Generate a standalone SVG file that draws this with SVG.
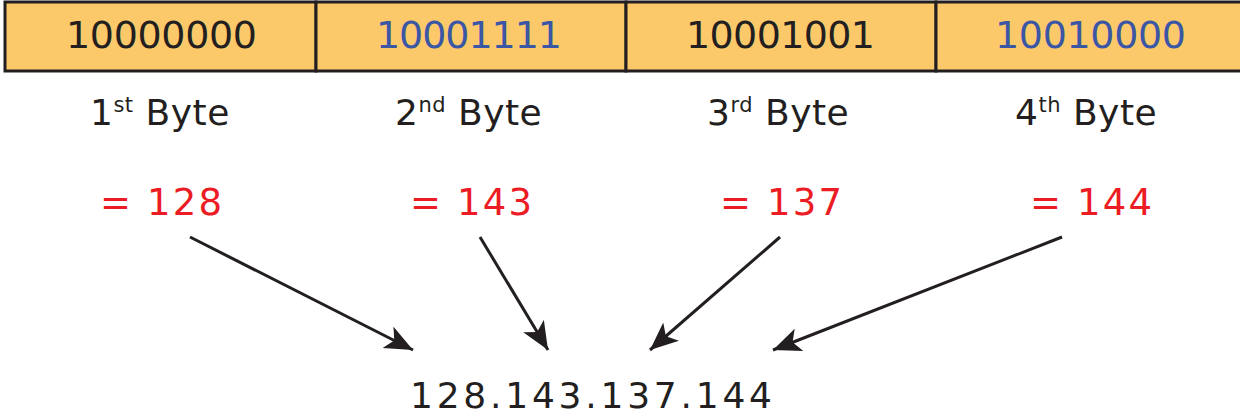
<svg xmlns="http://www.w3.org/2000/svg" width="1240" height="419" viewBox="0 0 1240 419">
<style>
.cell{fill:#fcc96a;stroke:#231f20;stroke-width:3}
.bin{font-family:"DejaVu Sans",sans-serif;font-size:38px}
.dark{fill:#231f20}
.blue{fill:#3a56a5}
.lbl{font-family:"DejaVu Sans",sans-serif;font-size:36px;fill:#231f20;letter-spacing:0.5px}
.sup{font-size:21px}
.val{font-family:"DejaVu Sans",sans-serif;font-size:37px;fill:#ec1c24}
.ip{font-family:"DejaVu Sans",sans-serif;font-size:36px;fill:#231f20}
.arr{stroke:#231f20;stroke-width:3;fill:none;marker-end:url(#ah)}
</style>
<defs>
<marker id="ah" markerUnits="userSpaceOnUse" markerWidth="30" markerHeight="26" refX="28" refY="12" orient="auto">
<path d="M0,0 L28,12 L0,24 L7,12 Z" fill="#231f20"/>
</marker>
</defs>
<g id="byte1">
<rect class="cell" x="5" y="2" width="311" height="69"/>
<text class="bin dark" x="66" y="48" textLength="191" lengthAdjust="spacing">10000000</text>
<text class="lbl" x="90" y="125">1<tspan class="sup" dy="-13">st</tspan><tspan dy="13"> Byte</tspan></text>
<text class="val" x="100" y="215" textLength="122" lengthAdjust="spacing">= 128</text>
</g>
<g id="byte2">
<rect class="cell" x="316" y="2" width="310" height="69"/>
<text class="bin blue" x="376" y="48" textLength="186" lengthAdjust="spacing">10001111</text>
<text class="lbl" x="395" y="125">2<tspan class="sup" dy="-13">nd</tspan><tspan dy="13"> Byte</tspan></text>
<text class="val" x="410" y="215" textLength="122" lengthAdjust="spacing">= 143</text>
</g>
<g id="byte3">
<rect class="cell" x="626" y="2" width="310" height="69"/>
<text class="bin dark" x="686" y="48" textLength="189" lengthAdjust="spacing">10001001</text>
<text class="lbl" x="707" y="125">3<tspan class="sup" dy="-13">rd</tspan><tspan dy="13"> Byte</tspan></text>
<text class="val" x="720" y="215" textLength="122" lengthAdjust="spacing">= 137</text>
</g>
<g id="byte4">
<rect class="cell" x="936" y="2" width="306" height="69"/>
<text class="bin blue" x="995" y="48" textLength="191" lengthAdjust="spacing">10010000</text>
<text class="lbl" x="1015" y="125">4<tspan class="sup" dy="-13">th</tspan><tspan dy="13"> Byte</tspan></text>
<text class="val" x="1030" y="215" textLength="122" lengthAdjust="spacing">= 144</text>
</g>
<g id="result">
<text class="ip" x="410" y="408" textLength="362" lengthAdjust="spacing">128.143.137.144</text>
</g>
<g id="connectors">
<line class="arr" x1="190" y1="237" x2="413" y2="350"/>
<line class="arr" x1="480" y1="237" x2="548" y2="350"/>
<line class="arr" x1="780" y1="237" x2="650" y2="350"/>
<line class="arr" x1="1062" y1="237" x2="773" y2="350"/>
</g>
</svg>
